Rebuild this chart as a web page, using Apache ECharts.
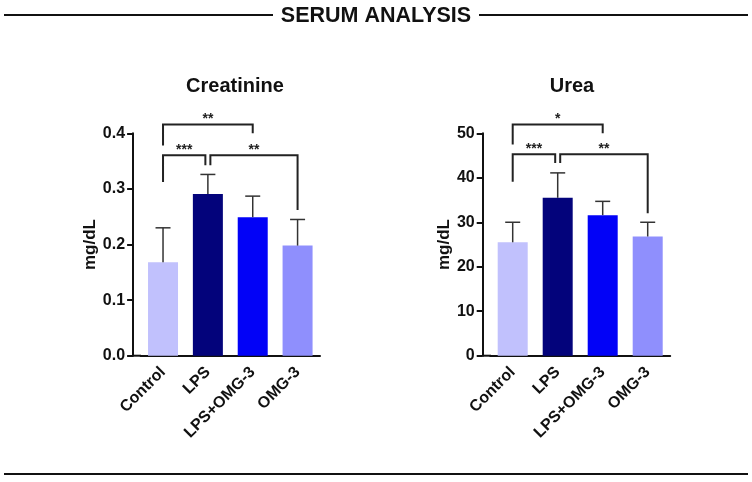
<!DOCTYPE html>
<html>
<head>
<meta charset="utf-8">
<script src="https://cdn.jsdelivr.net/npm/echarts@6/dist/echarts.min.js"></script>
<style>
  html, body { margin: 0; padding: 0; background: #fff; }
  #main { width: 752px; height: 482px; }
</style>
</head>
<body>
<div id="main"></div>
<script>
// data (mean and SD)
var groups = ['Control', 'LPS', 'LPS+OMG-3', 'OMG-3'];
var creatMean = [0.168, 0.291, 0.249, 0.198];
var creatSD = [0.062, 0.035, 0.038, 0.047];
var ureaMean = [25.5, 35.5, 31.6, 26.8];
var ureaSD = [4.5, 5.6, 3.1, 3.2];

// significance brackets: [from, to, barY, leftLegEnd, rightLegEnd]
var creatBrackets = [[0, 2, 0.4157, 0.378, 0.400], [0, 1, 0.3605, 0.3125, 0.3425], [1, 3, 0.3605, 0.3425, 0.262]];
var creatStars = ['**', '***', '**'];
var ureaBrackets = [[0, 2, 52.0, 47.5, 50.0], [0, 1, 45.3, 39.1, 43.3], [1, 3, 45.3, 43.3, 32.0]];
var ureaStars = ['*', '***', '**'];

var barColors = ['#c1c1fd', '#03037b', '#0202f7', '#8f8ffd'];
var font = 'Liberation Sans, Arial, sans-serif';

var chart = echarts.init(document.getElementById('main'));

function errData(mean, sd) {
  return mean.map(function (m, i) { return [i, m, m + sd[i]]; });
}

function errSeries(idx, mean, sd) {
  return {
    type: 'custom', xAxisIndex: idx, yAxisIndex: idx, z: 5,
    data: errData(mean, sd),
    renderItem: function (params, api) {
      var a = api.coord([api.value(0), api.value(1)]);
      var b = api.coord([api.value(0), api.value(2)]);
      var st = { stroke: '#333', lineWidth: 1.5 };
      return { type: 'group', children: [
        { type: 'line', shape: { x1: a[0], y1: a[1], x2: b[0], y2: b[1] }, style: st },
        { type: 'line', shape: { x1: b[0] - 7.5, y1: b[1], x2: b[0] + 7.5, y2: b[1] }, style: st }
      ] };
    }
  };
}

function bracketSeries(idx, brackets, stars) {
  return {
    type: 'custom', xAxisIndex: idx, yAxisIndex: idx, z: 6, clip: false,
    data: brackets,
    renderItem: function (params, api) {
      var br = brackets[params.dataIndex];
      // split the legs where two brackets meet on the same bar
      var o1 = (params.dataIndex === 2) ? 2.5 : 0;
      var o2 = (params.dataIndex === 1) ? -2.5 : 0;
      var p1 = api.coord([br[0], br[2]]);
      var p2 = api.coord([br[1], br[2]]);
      var l = api.coord([br[0], br[3]]);
      var r = api.coord([br[1], br[4]]);
      var x1 = p1[0] + o1, x2 = p2[0] + o2;
      return { type: 'group', children: [
        { type: 'polyline', shape: { points: [[x1, l[1]], [x1, p1[1]], [x2, p2[1]], [x2, r[1]]] },
          style: { stroke: '#222', lineWidth: 2, fill: null } },
        { type: 'text', x: (x1 + x2) / 2, y: p1[1] + 2,
          style: { text: stars[params.dataIndex], font: 'bold 14px ' + font, fill: '#222',
                   textAlign: 'center', textVerticalAlign: 'bottom' } }
      ] };
    }
  };
}

function xAxis(idx) {
  return {
    type: 'category', gridIndex: idx, data: groups,
    axisLine: { lineStyle: { color: '#111', width: 2 } },
    axisTick: { alignWithLabel: true, length: 7, lineStyle: { width: 2, color: '#111' } },
    axisLabel: { rotate: 45, margin: 14, color: '#111', fontWeight: 'bold', fontSize: 16, fontFamily: font, interval: 0 }
  };
}

function yAxis(idx, max, interval, digits, gap) {
  return {
    type: 'value', gridIndex: idx, min: 0, max: max, interval: interval, offset: 7.5,
    name: 'mg/dL', nameLocation: 'middle', nameGap: gap, nameRotate: 90,
    nameTextStyle: { color: '#111', fontWeight: 'bold', fontSize: 17, fontFamily: font },
    splitLine: { show: false },
    axisLine: { show: true, lineStyle: { color: '#111', width: 2 } },
    axisTick: { show: true, length: 6, lineStyle: { width: 2, color: '#111' } },
    axisLabel: { color: '#111', fontWeight: 'bold', fontSize: 16, fontFamily: font, margin: 8,
                 formatter: function (v) { return v.toFixed(digits); } }
  };
}

function barSeries(idx, mean) {
  return {
    type: 'bar', xAxisIndex: idx, yAxisIndex: idx, data: mean, barWidth: 30, z: 2,
    itemStyle: { color: function (p) { return barColors[p.dataIndex]; } }
  };
}

var lineStyle = { stroke: '#111', lineWidth: 2 };

chart.setOption({
  animation: false,
  title: [
    { text: 'Creatinine', left: 230, top: 71, textAlign: 'center',
      textStyle: { fontSize: 20, fontWeight: 'bold', color: '#111', fontFamily: font } },
    { text: 'Urea', left: 567, top: 71, textAlign: 'center',
      textStyle: { fontSize: 20, fontWeight: 'bold', color: '#111', fontFamily: font } }
  ],
  grid: [
    { left: 140.6, top: 133.3, width: 179.4, height: 222.4 },
    { left: 490.2, top: 133.3, width: 180, height: 222.4 }
  ],
  xAxis: [xAxis(0), xAxis(1)],
  yAxis: [yAxis(0, 0.4, 0.1, 1, 31), yAxis(1, 50, 10, 0, 30)],
  series: [
    barSeries(0, creatMean), errSeries(0, creatMean, creatSD), bracketSeries(0, creatBrackets, creatStars),
    barSeries(1, ureaMean), errSeries(1, ureaMean, ureaSD), bracketSeries(1, ureaBrackets, ureaStars)
  ],
  graphic: [
    { type: 'text', x: 376, y: 16, style: { text: 'SERUM ANALYSIS', font: 'bold 21.5px ' + font, fill: '#111',
      textAlign: 'center', textVerticalAlign: 'middle' } },
    { type: 'line', shape: { x1: 4, y1: 15, x2: 273, y2: 15 }, style: lineStyle },
    { type: 'line', shape: { x1: 479, y1: 15, x2: 748, y2: 15 }, style: lineStyle },
    { type: 'line', shape: { x1: 4, y1: 474, x2: 748, y2: 474 }, style: lineStyle },
    // x-axis lines start at the y-axis, a little left of the first band
    { type: 'line', shape: { x1: 133, y1: 355.7, x2: 141, y2: 355.7 }, style: lineStyle },
    { type: 'line', shape: { x1: 482.7, y1: 355.7, x2: 491, y2: 355.7 }, style: lineStyle }
  ]
});
</script>
</body>
</html>
